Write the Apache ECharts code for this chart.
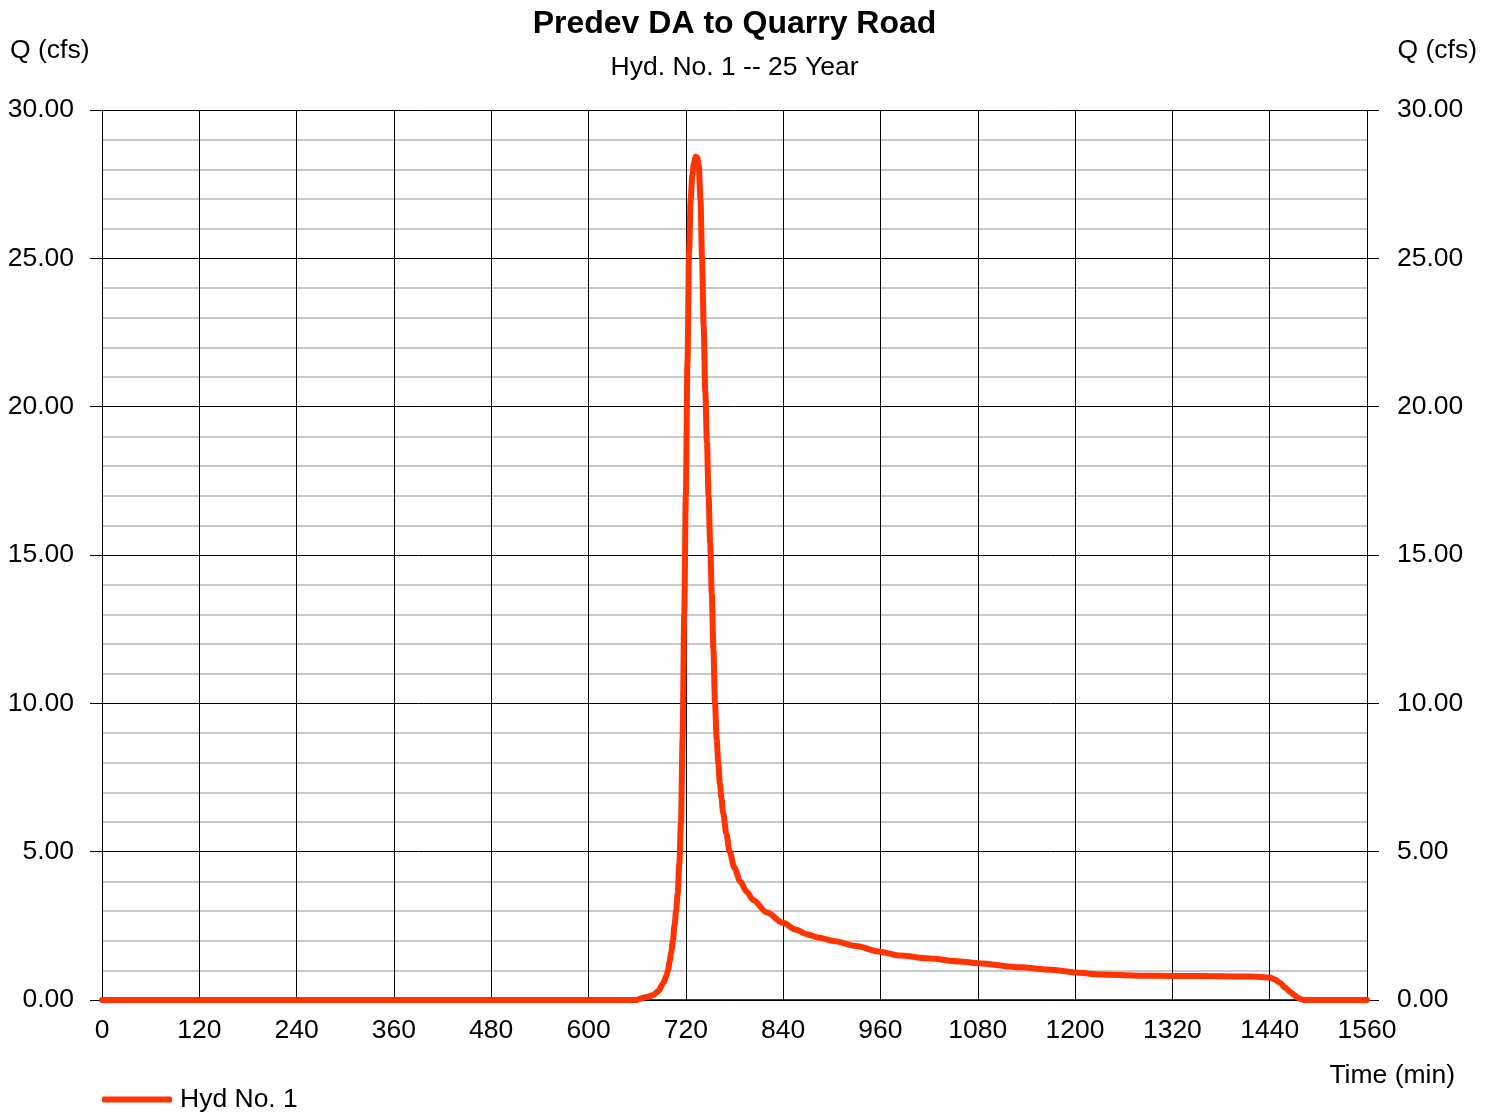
<!DOCTYPE html>
<html>
<head>
<meta charset="utf-8">
<title>Predev DA to Quarry Road</title>
<script src="https://cdn.jsdelivr.net/npm/echarts@6/dist/echarts.min.js"></script>
<style>
  html, body { margin: 0; padding: 0; background: #ffffff; }
  #chart { width: 1496px; height: 1112px; }
</style>
</head>
<body>
<div id="chart"></div>
<script>
// Hydrograph ordinates: time (min) and discharge Q (cfs)
const timeMin = [
  0, 600, 660, 663, 672, 680, 686, 692, 696, 698, 700, 702, 704, 706, 708, 710, 712,
  714, 716, 718, 720, 722, 724, 726, 728, 730, 732, 734, 736, 738, 740, 742, 744,
  746, 748, 750, 752, 754, 756, 758, 760, 762, 764, 766, 770, 774, 780, 787, 795,
  803, 820, 840, 855, 869, 885, 902, 930, 959, 984, 1020, 1058, 1080, 1132, 1170,
  1200, 1231, 1280, 1317, 1380, 1416, 1440, 1446, 1453, 1459, 1465, 1470, 1474,
  1478, 1482, 1490, 1560
];
const flowCfs = [
  0, 0, 0, 0.04, 0.1, 0.17, 0.3, 0.56, 0.82, 1.0, 1.3, 1.6, 2.0, 2.5, 3.0, 3.6, 4.6,
  6.0, 8.8, 13.0, 17.0, 21.5, 25.2, 27.0, 27.8, 28.2, 28.42, 28.4, 28.1, 27.0, 25.0, 22.7, 20.5,
  18.8, 17.0, 15.4, 13.7, 11.8, 10.0, 8.8, 8.0, 7.3, 6.8, 6.3, 5.6, 5.0, 4.45, 4.0, 3.65,
  3.37, 2.95, 2.6, 2.38, 2.22, 2.1, 1.99, 1.82, 1.63, 1.5, 1.4, 1.3, 1.24, 1.1, 1.02,
  0.93, 0.86, 0.82, 0.81, 0.8, 0.79, 0.76, 0.7, 0.57, 0.42, 0.28, 0.17, 0.09,
  0.03, 0, 0, 0
];

// Axis ticks
const timeTicks = [0, 120, 240, 360, 480, 600, 720, 840, 960, 1080, 1200, 1320, 1440, 1560];
const flowTicks = [0, 5, 10, 15, 20, 25, 30];

const seriesName = 'Hyd No. 1';
const titleText = 'Predev DA to Quarry Road';
const subtitleText = 'Hyd. No. 1 -- 25 Year';

const points = timeMin.map((t, i) => [t, flowCfs[i]]);
const FONT = '"Liberation Sans", Arial, sans-serif';
const FS = 26.5;

// Plot box (pixels) and the horizontal centre used for the headings
const GRID = { left: 102, right: 129, top: 110, bottom: 112 };
const plotCenterX = (GRID.left + (1496 - GRID.right)) / 2;

const chart = echarts.init(document.getElementById('chart'), null, { renderer: 'canvas' });

const yAxisBase = (position) => ({
  type: 'value',
  position: position,
  min: flowTicks[0],
  max: flowTicks[flowTicks.length - 1],
  interval: flowTicks[1] - flowTicks[0],
  axisLine: { show: position === 'left', lineStyle: { color: '#000', width: 1 } },
  axisTick: { show: true, inside: false, length: 12, lineStyle: { color: '#000', width: 1 } },
  axisLabel: {
    color: '#000', fontFamily: FONT, fontSize: FS,
    margin: position === 'left' ? 28 : 30,
    padding: [3, 0, 0, 0],
    formatter: v => v.toFixed(2)
  },
  splitLine: { show: position === 'left', lineStyle: { color: '#000', width: 1 } },
  minorTick: { show: position === 'left', splitNumber: 5, length: 0 },
  minorSplitLine: { show: position === 'left', lineStyle: { color: '#c8c8c8', width: 2 } }
});

chart.setOption({
  animation: false,
  backgroundColor: '#ffffff',
  grid: Object.assign({ containLabel: false }, GRID),
  legend: {
    left: 97, top: 1081,
    itemWidth: 70, itemHeight: 6, itemGap: 10,
    icon: 'roundRect',
    textStyle: { fontFamily: FONT, fontSize: FS, color: '#000', padding: [0, 0, 0, 3] },
    data: [seriesName]
  },
  xAxis: {
    type: 'value',
    min: timeTicks[0],
    max: timeTicks[timeTicks.length - 1],
    interval: timeTicks[1] - timeTicks[0],
    axisLine: { show: true, onZero: false, lineStyle: { color: '#000', width: 1.5 } },
    axisTick: { show: false },
    axisLabel: { color: '#000', fontFamily: FONT, fontSize: FS, margin: 17, formatter: v => String(v) },
    splitLine: { show: true, lineStyle: { color: '#000', width: 1 } }
  },
  yAxis: [yAxisBase('left'), yAxisBase('right')],
  graphic: [
    {
      type: 'text', x: plotCenterX, y: 24,
      style: { text: titleText, font: 'bold 32px ' + FONT, fill: '#000', align: 'center', verticalAlign: 'middle' }
    },
    {
      type: 'text', x: plotCenterX, y: 68,
      style: { text: subtitleText, font: FS + 'px ' + FONT, fill: '#000', align: 'center', verticalAlign: 'middle' }
    },
    { type: 'text', left: 10, top: 37, style: { text: 'Q (cfs)', font: FS + 'px ' + FONT, fill: '#000' } },
    { type: 'text', right: 19, top: 37, style: { text: 'Q (cfs)', font: FS + 'px ' + FONT, fill: '#000' } },
    { type: 'text', right: 41, top: 1062, style: { text: 'Time (min)', font: FS + 'px ' + FONT, fill: '#000' } }
  ],
  series: [
    {
      name: seriesName,
      type: 'line',
      data: points,
      showSymbol: false,
      symbol: 'none',
      smooth: 0.3,
      smoothMonotone: 'x',
      color: '#ff3300',
      lineStyle: { color: '#ff3300', width: 6, cap: 'round', join: 'round' },
      z: 10
    }
  ]
});
</script>
</body>
</html>
